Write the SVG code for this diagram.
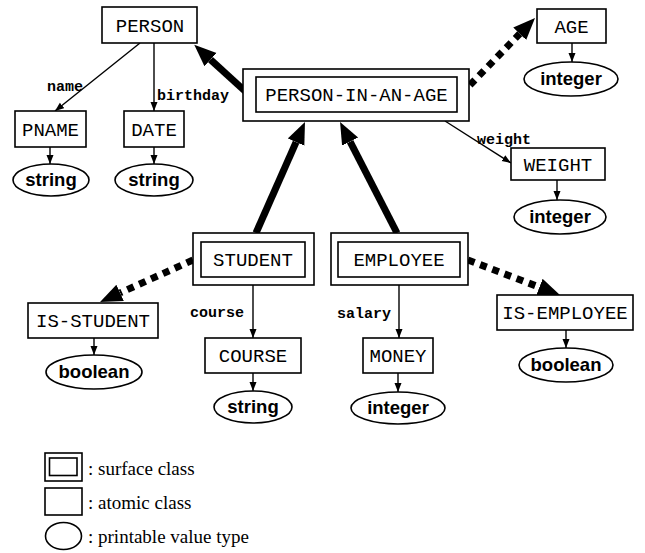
<svg xmlns="http://www.w3.org/2000/svg" width="645" height="553" viewBox="0 0 645 553">
<style>
.box{fill:#fff;stroke:#000;stroke-width:1.6}
.val{fill:#fff;stroke:#000;stroke-width:1.6}
.nt{font-family:"Liberation Mono","Courier New",monospace;font-size:19px;fill:#000;text-anchor:middle}
.vt{font-family:"Liberation Sans",Arial,sans-serif;font-size:18.5px;font-weight:bold;fill:#000;text-anchor:middle}
.el{font-family:"Liberation Mono","Courier New",monospace;font-size:15px;font-weight:bold;fill:#000}
.lg{font-family:"Liberation Serif","Times New Roman",serif;font-size:19px;fill:#000}
.thin{stroke:#000;stroke-width:1.4;fill:none}
.heavy{stroke:#000;stroke-width:7;fill:none}
.dot{stroke:#000;stroke-width:7;fill:none;stroke-dasharray:7 6}
</style>
<defs>
<marker id="sa" markerUnits="userSpaceOnUse" markerWidth="10" markerHeight="8" refX="9" refY="3.5" orient="auto">
<path d="M0,0 L9,3.5 L0,7 z" fill="#000"/>
</marker>
<marker id="ba" markerUnits="userSpaceOnUse" markerWidth="24" markerHeight="20" refX="0" refY="9" orient="auto">
<path d="M0,0 L22,9 L0,18 z" fill="#000"/>
</marker>
</defs>

<g id="connectors">
<line class="thin" x1="140" y1="43" x2="55" y2="111" marker-end="url(#sa)"/>
<line class="thin" x1="154" y1="43" x2="154" y2="111" marker-end="url(#sa)"/>
<line class="thin" x1="50" y1="147" x2="50" y2="164" marker-end="url(#sa)"/>
<line class="thin" x1="154" y1="147" x2="154" y2="164" marker-end="url(#sa)"/>
<line class="thin" x1="572" y1="43" x2="572" y2="62" marker-end="url(#sa)"/>
<line class="thin" x1="445" y1="121" x2="511" y2="163" marker-end="url(#sa)"/>
<line class="thin" x1="557" y1="180" x2="557" y2="200" marker-end="url(#sa)"/>
<line class="thin" x1="253" y1="285" x2="253" y2="338" marker-end="url(#sa)"/>
<line class="thin" x1="253" y1="373" x2="253" y2="391" marker-end="url(#sa)"/>
<line class="thin" x1="399" y1="285" x2="399" y2="338" marker-end="url(#sa)"/>
<line class="thin" x1="398" y1="373" x2="398" y2="392" marker-end="url(#sa)"/>
<line class="thin" x1="94" y1="338" x2="94" y2="355" marker-end="url(#sa)"/>
<line class="thin" x1="566" y1="330" x2="566" y2="348" marker-end="url(#sa)"/>
<line class="heavy" x1="246" y1="92" x2="210.5" y2="59.6" marker-end="url(#ba)"/>
<line class="heavy" x1="256" y1="233" x2="296.1" y2="142.1" marker-end="url(#ba)"/>
<line class="heavy" x1="397" y1="233" x2="350.1" y2="141.6" marker-end="url(#ba)"/>
<line class="dot" x1="470" y1="85" x2="519.7" y2="33.8" marker-end="url(#ba)"/>
<line class="dot" x1="193" y1="260" x2="120.1" y2="292.9" marker-end="url(#ba)"/>
<line class="dot" x1="468" y1="260" x2="539.4" y2="287.2" marker-end="url(#ba)"/>
<text class="el" x="47" y="91">name</text>
<text class="el" x="157" y="100">birthday</text>
<text class="el" x="477" y="144">weight</text>
<text class="el" x="190" y="317">course</text>
<text class="el" x="337" y="318">salary</text>
</g>

<g id="PERSON"><rect class="box" x="102" y="7" width="95" height="36"/><text class="nt" x="150" y="31.5">PERSON</text></g>
<g id="PNAME"><rect class="box" x="15" y="111" width="71" height="36"/><text class="nt" x="50.5" y="135.5">PNAME</text></g>
<g id="DATE"><rect class="box" x="124" y="111" width="60" height="36"/><text class="nt" x="154" y="135.5">DATE</text></g>
<g id="string1"><ellipse class="val" cx="51" cy="180" rx="38" ry="16"/><text class="vt" x="51" y="186">string</text></g>
<g id="string2"><ellipse class="val" cx="154" cy="180" rx="39" ry="16"/><text class="vt" x="154" y="186">string</text></g>

<g id="PERSON-IN-AN-AGE"><rect class="box" x="243" y="69" width="226" height="52"/><rect class="box" x="256" y="77" width="201" height="35"/><text class="nt" x="356.5" y="101">PERSON-IN-AN-AGE</text></g>

<g id="AGE"><rect class="box" x="537" y="9" width="69" height="34"/><text class="nt" x="571.5" y="32.5">AGE</text></g>
<g id="integer1"><ellipse class="val" cx="571" cy="79" rx="47" ry="17"/><text class="vt" x="571" y="85">integer</text></g>
<g id="WEIGHT"><rect class="box" x="511" y="148" width="94" height="32"/><text class="nt" x="558" y="170.5">WEIGHT</text></g>
<g id="integer2"><ellipse class="val" cx="560" cy="217" rx="46" ry="17"/><text class="vt" x="560" y="223">integer</text></g>

<g id="STUDENT"><rect class="box" x="193" y="233" width="121" height="52"/><rect class="box" x="201" y="242" width="104" height="35"/><text class="nt" x="253" y="266">STUDENT</text></g>
<g id="EMPLOYEE"><rect class="box" x="331" y="233" width="137" height="52"/><rect class="box" x="338" y="242" width="122" height="35"/><text class="nt" x="399" y="266">EMPLOYEE</text></g>

<g id="IS-STUDENT"><rect class="box" x="28" y="303" width="130" height="35"/><text class="nt" x="93" y="327">IS-STUDENT</text></g>
<g id="boolean1"><ellipse class="val" cx="94" cy="372" rx="48" ry="17"/><text class="vt" x="94" y="378">boolean</text></g>
<g id="COURSE"><rect class="box" x="205" y="338" width="96" height="35"/><text class="nt" x="253" y="362">COURSE</text></g>
<g id="string3"><ellipse class="val" cx="253" cy="407" rx="39" ry="16"/><text class="vt" x="253" y="413">string</text></g>
<g id="MONEY"><rect class="box" x="363" y="338" width="70" height="35"/><text class="nt" x="398" y="362">MONEY</text></g>
<g id="integer3"><ellipse class="val" cx="398" cy="408" rx="47" ry="16"/><text class="vt" x="398" y="414">integer</text></g>
<g id="IS-EMPLOYEE"><rect class="box" x="497" y="295" width="136" height="35"/><text class="nt" x="565" y="319">IS-EMPLOYEE</text></g>
<g id="boolean2"><ellipse class="val" cx="566" cy="365" rx="47" ry="17"/><text class="vt" x="566" y="371">boolean</text></g>

<g id="legend">
<rect class="box" x="45" y="453" width="37" height="28"/><rect class="box" x="49.5" y="458" width="27.5" height="17.5"/>
<text class="lg" x="88" y="475">: surface class</text>
<rect class="box" x="45" y="488" width="37" height="27"/>
<text class="lg" x="88" y="509">: atomic class</text>
<ellipse class="val" cx="63.5" cy="536" rx="18" ry="13.5"/>
<text class="lg" x="88" y="543">: printable value type</text>
</g>
</svg>
